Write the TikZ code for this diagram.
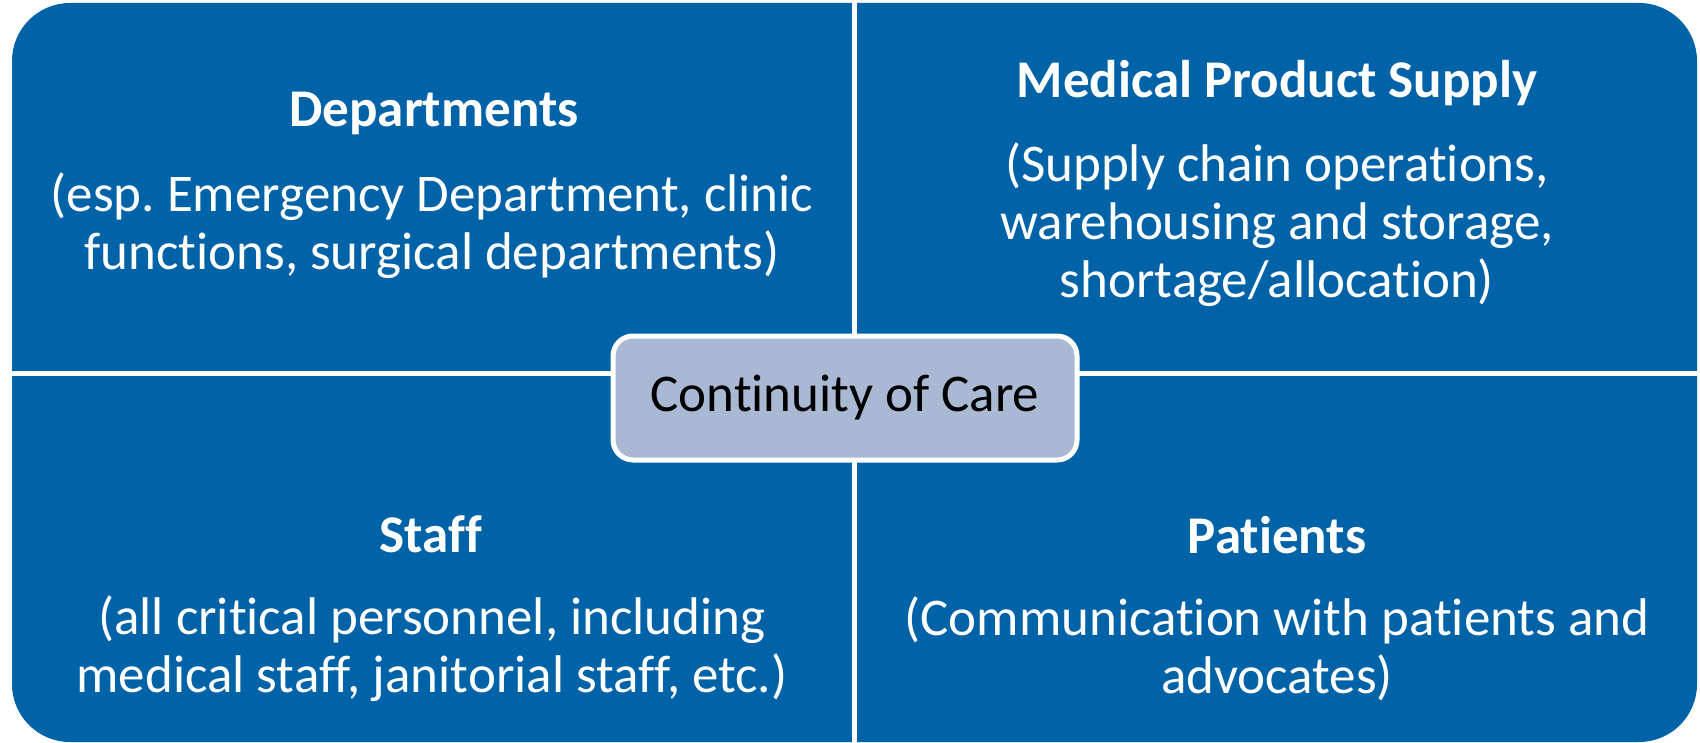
\documentclass[tikz,border=0pt]{standalone}
\usepackage{fontspec}
\setmainfont[Ligatures=NoCommon]{Carlito}
\frenchspacing
\definecolor{quadblue}{RGB}{0,99,168}
\definecolor{careblue}{RGB}{169,184,211}
\tikzset{
  heading/.style={text=white, inner sep=0pt, font=\fontsize{53}{58}\selectfont\bfseries},
  body/.style={text=white, inner sep=0pt, align=center, font=\fontsize{53}{58}\selectfont},
  carebox/.style={fill=careblue, draw=white, line width=5pt, rounded corners=20pt,
    minimum width=464pt, minimum height=124pt, font=\fontsize{53}{58}\selectfont},
}

\begin{document}
\begin{tikzpicture}[x=1pt,y=-1pt]
    \useasboundingbox (0,0) rectangle (1700,743);
    % background and white gaps
    \fill[quadblue, rounded corners=58pt] (12,3) rectangle (1697,742);
    \fill[white] (852,0) rectangle (857,743);
    \fill[white] (0,371) rectangle (1700,376);
    % quadrants
    \node[heading] (dept) at (434,113) {Departments};
    \node[body] (deptText) at (432,226) {(esp. Emergency Department, clinic\\functions, surgical departments)};
    \node[heading] (supply) at (1277,83) {Medical Product Supply};
    \node[body] (supplyText) at (1277,225) {(Supply chain operations,\\warehousing and storage,\\shortage/allocation)};
    \node[heading] (staff) at (431,534) {Staff};
    \node[body] (staffText) at (432,649) {(all critical personnel, including\\medical staff, janitorial staff, etc.)};
    \node[heading] (patients) at (1277,535) {Patients};
    \node[body] (patientsText) at (1277,649) {(Communication with patients and\\advocates)};
    % centre
    \node[carebox] (care) at (845,398) {Continuity of Care};
\end{tikzpicture}
\end{document}
